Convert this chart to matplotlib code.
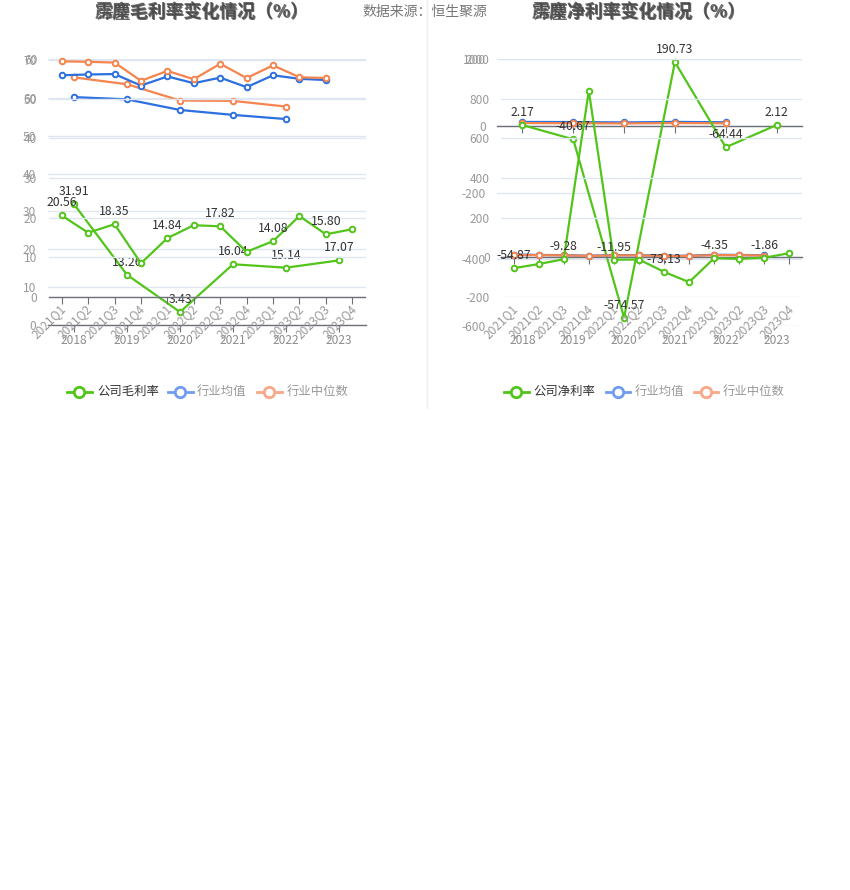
import matplotlib
matplotlib.use("Agg")
import matplotlib.pyplot as plt
from matplotlib.lines import Line2D
import matplotlib.transforms as mtrans

plt.rcParams['font.family'] = ['Noto Sans CJK SC', 'DejaVu Sans']

# ---------------- data ----------------
years = ['2018', '2019', '2020', '2021', '2022', '2023']
quarters = ['2021Q1', '2021Q2', '2021Q3', '2021Q4', '2022Q1', '2022Q2',
            '2022Q3', '2022Q4', '2023Q1', '2023Q2', '2023Q3', '2023Q4']

# gross margin (%)
gm_year_company = [31.91, 13.26, 3.43, 16.04, 15.14, 17.07]
gm_year_mean = [60.2, 59.6, 56.8, 55.5, 54.4]
gm_year_median = [65.4, 63.6, 59.3, 59.2, 57.7]
gm_q_company = [20.56, 16.2, 18.35, 8.5, 14.84, 18.1, 17.82, 11.4, 14.08, 20.4, 15.80, 17.1]
gm_q_mean = [55.9, 56.1, 56.2, 53.3, 55.6, 53.9, 55.3, 52.9, 55.9, 55.0, 54.7]
gm_q_median = [59.4, 59.3, 59.1, 54.5, 57.0, 54.9, 58.8, 55.2, 58.4, 55.4, 55.2]

# net margin (%)
nm_year_company = [2.17, -40.67, -574.57, 190.73, -64.44, 2.12]
nm_year_mean = [11.5, 11.0, 10.0, 11.5, 10.5]
nm_year_median = [8.0, 7.5, 7.0, 8.0, 7.5]
nm_q_company = [-54.87, -34.0, -9.28, 840.0, -11.95, -11.0, -73.13, -125.0, -4.35, -8.0, -1.86, 21.0]
nm_q_mean = [14.0, 12.0, 11.0, 8.0, 11.0, 11.0, 8.0, 8.0, 13.0, 12.0, 10.0]
nm_q_median = [12.0, 11.0, 10.0, 7.0, 10.0, 10.0, 7.0, 7.0, 11.0, 11.0, 9.0]

gm_year_ticks = [0, 10, 20, 30, 40, 50, 60, 70]
gm_q_ticks = [0, 10, 20, 30, 40, 50, 60]
nm_year_ticks = [-600, -400, -200, 0, 200]
nm_q_ticks = [-200, 0, 200, 400, 600, 800, 1000]

q_label_idx = [0, 2, 4, 6, 8, 10]

legend_gm = ['公司毛利率', '行业均值', '行业中位数']
legend_nm = ['公司净利率', '行业均值', '行业中位数']
title_gm = '毛利率变化情况（%）'
title_nm = '净利率变化情况（%）'
source_text = '数据来源：恒生聚源'

# ---------------- style ----------------
W, H = 850, 890
GREEN = '#52c41a'
BLUE = '#2c6fdf'
ORANGE = '#f5844e'
GRID = '#e0e6f1'
AXIS = '#6e7079'
LABEL = '#999999'
FS_TICK = 8.6
FS_DATA = 8.8

fig = plt.figure(figsize=(W / 100, H / 100), dpi=100)


def make_ax(x0, x1, y0, y1):
    ax = fig.add_axes([x0 / W, 1 - y1 / H, (x1 - x0) / W, (y1 - y0) / H])
    ax.patch.set_visible(False)
    for s in ['top', 'right', 'left']:
        ax.spines[s].set_visible(False)
    return ax


def setup(ax, n, ticks, cat_labels, rotated):
    ax.set_xlim(-0.5, n - 0.5)
    ax.set_ylim(ticks[0], ticks[-1])
    ax.set_yticks(ticks)
    ax.set_yticklabels([str(t) for t in ticks])
    ax.yaxis.grid(True, color=GRID, lw=1)
    ax.set_axisbelow(True)
    ax.tick_params(axis='y', length=0, pad=8, labelcolor=LABEL, labelsize=FS_TICK)
    ax.spines['bottom'].set_position(('data', 0))
    ax.spines['bottom'].set_color(AXIS)
    ax.spines['bottom'].set_linewidth(1)
    ax.set_xticks(range(n))
    ax.tick_params(axis='x', direction='out', length=5, color=AXIS, labelbottom=False)
    tr = mtrans.blended_transform_factory(ax.transData, ax.transAxes)
    for i, lab in enumerate(cat_labels):
        if rotated:
            t = ax.text(i, 0, lab, transform=tr, rotation=45, ha='right', va='center',
                        rotation_mode='anchor', color=LABEL, fontsize=FS_TICK)
            t.set_transform(tr + mtrans.ScaledTranslation(2 / 100, -10 / 100, fig.dpi_scale_trans))
        else:
            t = ax.text(i, 0, lab, transform=tr, ha='center', va='center',
                        color='#8c8c8c', fontsize=FS_TICK)
            t.set_transform(tr + mtrans.ScaledTranslation(0, -15 / 100, fig.dpi_scale_trans))
    return ax


def series(ax, vals, color, labels_idx=None):
    x = list(range(len(vals)))
    ax.plot(x, vals, color=color, lw=1.6, marker='o', ms=4.0, mfc='white',
            mec=color, mew=1.4, clip_on=False, zorder=3)
    if labels_idx is not None:
        for i in labels_idx:
            ax.annotate(f'{vals[i]:.2f}', (i, vals[i]), xytext=(0, 6),
                        textcoords='offset pixels', ha='center', va='bottom',
                        color='#333333', fontsize=FS_DATA, zorder=5)


# ---------- left panel ----------
axLA = make_ax(47.5, 365.5, 60, 325)
setup(axLA, 6, gm_year_ticks, years, False)
series(axLA, gm_year_mean, BLUE)
series(axLA, gm_year_median, ORANGE)
series(axLA, gm_year_company, GREEN, range(6))

axLQ = make_ax(48.5, 365.5, 59, 297)
setup(axLQ, 12, gm_q_ticks, quarters, True)
series(axLQ, gm_q_mean, BLUE)
series(axLQ, gm_q_median, ORANGE)
series(axLQ, gm_q_company, GREEN, q_label_idx)

# ---------- right panel ----------
axRA = make_ax(497, 802, 59, 326)
setup(axRA, 6, nm_year_ticks, years, False)
series(axRA, nm_year_mean, BLUE)
series(axRA, nm_year_median, ORANGE)
series(axRA, nm_year_company, GREEN, range(6))

axRQ = make_ax(501, 802, 59, 297)
setup(axRQ, 12, nm_q_ticks, quarters, True)
series(axRQ, nm_q_mean, BLUE)
series(axRQ, nm_q_median, ORANGE)
series(axRQ, nm_q_company, GREEN, q_label_idx)

# ---------- overlay: titles, legend, source ----------
ov = fig.add_axes([0, 0, 1, 1])
ov.set_xlim(0, W)
ov.set_ylim(H, 0)
ov.axis('off')
ov.patch.set_visible(False)

ov.plot([427, 427], [0, 408], color='#eeeeee', lw=1)

for cx, title in [(202, title_gm), (639, title_nm)]:
    for prefix in ['雳麋', '霈麈']:
        ov.text(cx, 13, prefix + title, ha='center', va='center', fontsize=12.9,
                fontweight='bold', color='#444444', alpha=0.8)

ov.text(362, 12, source_text, ha='left', va='center', fontsize=10.0, color='#777777')


def legend(items, labels):
    for (lx0, lx1, cx, tx, col, tcol), lab in zip(items, labels):
        ov.add_line(Line2D([lx0, lx1], [391.5, 391.5], color=col, lw=2))
        ov.plot([cx], [391.5], marker='o', ms=7.5, mfc='white', mec=col, mew=2)
        ov.text(tx, 391.5, lab, ha='left', va='center', fontsize=8.9, color=tcol)


legend([(67, 92, 79.5, 97, GREEN, '#333333'),
        (168, 193, 180, 197, '#6f9cf0', '#999999'),
        (257, 282, 269.5, 287, '#f9a887', '#999999')], legend_gm)
legend([(504, 529, 516.5, 533, GREEN, '#333333'),
        (606, 630, 618, 635, '#6f9cf0', '#999999'),
        (694, 718, 706, 723, '#f9a887', '#999999')], legend_nm)

fig.savefig('out.png', dpi=100)
